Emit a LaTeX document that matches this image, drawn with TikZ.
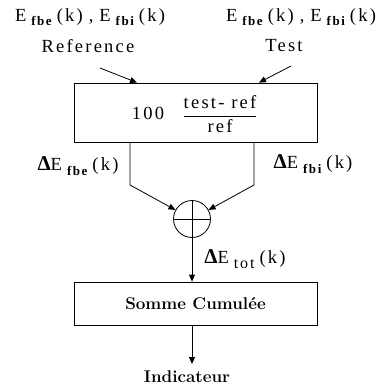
\documentclass[tikz,border=0pt]{standalone}
\usepackage{fontspec}
\newfontfamily\tms[LetterSpace=12]{Liberation Serif}
\usetikzlibrary{arrows.meta}
\newcommand\Esub[1]{E\hspace{5pt}\raisebox{-0.55ex}{\fontsize{13}{14}\selectfont\bfseries #1}\hspace{5pt}(k)}
\newcommand\Dlt{{\fontsize{21}{22}\selectfont\bfseries Δ}}
\tikzset{
  lbl/.style={font=\tms\fontsize{18.5}{20}\selectfont, inner sep=0pt},
  blk/.style={draw, line width=0.8pt, inner sep=0pt},
  wire/.style={line width=0.8pt},
  arr/.style={wire, -{Triangle[length=7pt,width=6pt]}},
  cmtxt/.style={font=\fontsize{17}{19}\selectfont\bfseries\addfontfeatures{LetterSpace=6}, inner sep=0pt}
}
\begin{document}
\begin{tikzpicture}[x=1pt,y=-1pt]
\useasboundingbox (0,0) rectangle (382,390);
% blocks
\node[blk, minimum width=243pt, minimum height=59pt] (box1) at (195.5,112.5) {};
\node[blk, minimum width=243pt, minimum height=43pt] (box2) at (195.5,303.5) {};
\node[blk, circle, minimum size=37pt] (sum) at (192,219) {};
\draw[wire] ([xshift=-18.5pt]sum.center) -- ([xshift=18.5pt]sum.center);
\draw[wire] ([yshift=-18.5pt]sum.center) -- ([yshift=18.5pt]sum.center);
% texts
\node[lbl] (tl) at (90,17) {\Esub{fbe}\hspace{6pt},\hspace{6pt}\Esub{fbi}};
\node[lbl] (tr) at (301,17) {\Esub{fbe}\hspace{6pt},\hspace{6pt}\Esub{fbi}};
\node[lbl] (ref) at (88,46) {Reference};
\node[lbl] (test) at (284,46) {Test};
\node[lbl] (hund) at (148,113) {100};
\node[lbl] (frac) at (220,114) {$\displaystyle\frac{\mbox{\tms\fontsize{18.5}{20}\selectfont test- ref}}{\mbox{\tms\fontsize{18.5}{20}\selectfont ref}}$};
\node[lbl] (dfbe) at (78,166) {\Dlt\Esub{fbe}};
\node[lbl] (dfbi) at (313,164) {\Dlt\Esub{fbi}};
\node[lbl] (dtot) at (245,259) {\Dlt E\hspace{5pt}\raisebox{-0.55ex}{\fontsize{16}{17}\selectfont tot}\hspace{5pt}(k)};
\node[cmtxt] (somme) at (195.5,304) {Somme Cumulée};
\node[cmtxt] (ind) at (187,377) {Indicateur};
% connectors
\coordinate (rs) at (100,68);
\coordinate (ts) at (291,66);
\coordinate (lb) at (130,185);
\coordinate (rb) at (254,185);
\coordinate (out) at (192,364);
\draw[arr] (rs) -- (box1.north -| 137,0);
\draw[arr] (ts) -- (box1.north -| 259,0);
\draw[arr] (box1.south -| lb) -- (lb) -- (sum);
\draw[arr] (box1.south -| rb) -- (rb) -- (sum);
\draw[arr] (sum.south) -- (sum.south |- box2.north);
\draw[arr] (box2.south -| out) -- (out);
\end{tikzpicture}
\end{document}
